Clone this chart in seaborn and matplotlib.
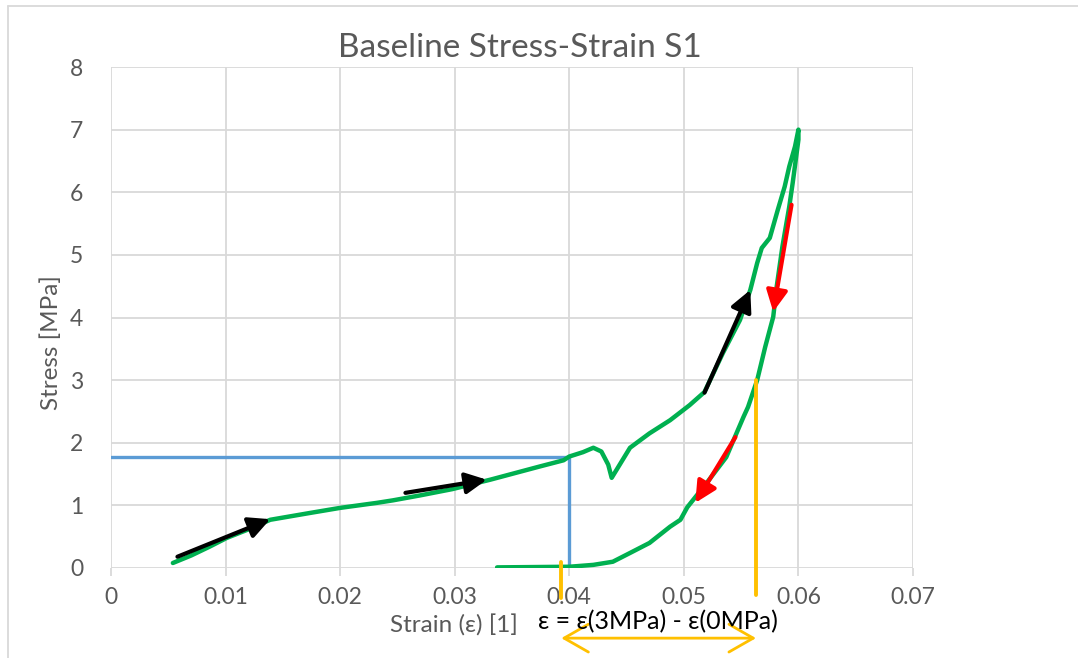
import numpy as np
import pandas as pd
import matplotlib
matplotlib.use("Agg")
import matplotlib.pyplot as plt
from matplotlib.lines import Line2D
import seaborn as sns

# ─── Data ───────────────────────────────────────────────────────────────────────
load_strain = [0.0054, 0.0070, 0.0086, 0.0101, 0.0119, 0.0139, 0.0174, 0.0200,
               0.0232, 0.0246, 0.0270, 0.0298, 0.0331, 0.0374, 0.0395, 0.0400,
               0.0412, 0.0421, 0.0428, 0.0434, 0.0437, 0.0445, 0.0453, 0.0470,
               0.0488, 0.0505, 0.0518, 0.0534, 0.0549, 0.0558, 0.0564, 0.0568,
               0.0575, 0.0582, 0.0588, 0.0592, 0.0597, 0.0600]
load_stress = [0.08, 0.20, 0.34, 0.48, 0.61, 0.77, 0.88, 0.96,
               1.04, 1.08, 1.16, 1.26, 1.41, 1.62, 1.72, 1.78,
               1.85, 1.92, 1.86, 1.65, 1.44, 1.68, 1.92, 2.15,
               2.36, 2.60, 2.81, 3.43, 3.96, 4.44, 4.87, 5.11,
               5.27, 5.72, 6.09, 6.41, 6.73, 7.00]

unload_strain = [0.0600, 0.0600, 0.0595, 0.0592, 0.0586, 0.0581, 0.0578, 0.0571,
                 0.0564, 0.0556, 0.0552, 0.0537, 0.0520, 0.0503, 0.0497, 0.0488,
                 0.0470, 0.0453, 0.0438, 0.0421, 0.0400, 0.0337]
unload_stress = [7.00, 6.84, 6.15, 5.77, 5.13, 4.49, 4.01, 3.53,
                 3.00, 2.57, 2.41, 1.77, 1.36, 0.97, 0.77, 0.66,
                 0.40, 0.24, 0.10, 0.05, 0.02, 0.01]

yield_strain = 0.040
yield_stress = 1.78
eps_0mpa = 0.0393
eps_3mpa = 0.0563

# arrows: (x0, y0, x1, y1)
black_arrows = [(0.0058, 0.18, 0.0139, 0.78),
                (0.0257, 1.20, 0.0328, 1.41),
                (0.0518, 2.80, 0.0558, 4.44)]
red_arrows = [(0.0594, 5.80, 0.0578, 4.09),
              (0.0545, 2.09, 0.0510, 1.04)]

x_ticks = [0, 0.01, 0.02, 0.03, 0.04, 0.05, 0.06, 0.07]
x_tick_labels = ["0", "0.01", "0.02", "0.03", "0.04", "0.05", "0.06", "0.07"]
y_ticks = [0, 1, 2, 3, 4, 5, 6, 7, 8]

# ─── Style ──────────────────────────────────────────────────────────────────────
sns.set_theme(style="whitegrid")
plt.rcParams["font.family"] = ["Lato", "DejaVu Sans"]
GREY_TXT = "#595959"
GRID = "#d9d9d9"

df = pd.DataFrame({
    "strain": load_strain + unload_strain[1:],
    "stress": load_stress + unload_stress[1:],
})

fig = plt.figure(figsize=(10.78, 6.58), dpi=100, facecolor="white")
ax = fig.add_axes([111 / 1078, 1 - 568 / 658, 802 / 1078, 501 / 658])

sns.lineplot(data=df, x="strain", y="stress", sort=False, estimator=None,
             color="#00b050", lw=3.2, ax=ax, zorder=3)

# blue yield guide
ax.plot([0, yield_strain, yield_strain], [yield_stress, yield_stress, 0],
        color="#5b9bd5", lw=2.4, zorder=2)

# orange strain-range markers (run below the axis)
ax.plot([eps_0mpa, eps_0mpa], [0.1, -0.48], color="#ffc000", lw=2.8,
        clip_on=False, zorder=4)
ax.plot([eps_3mpa, eps_3mpa], [3.0, -0.43], color="#ffc000", lw=2.8,
        clip_on=False, zorder=4)
ax.annotate("", xy=(eps_0mpa, -1.12), xytext=(eps_3mpa, -1.12),
            arrowprops=dict(arrowstyle="<->,head_length=0.7,head_width=0.4",
                            color="#ffc000", lw=2, mutation_scale=25,
                            shrinkA=0, shrinkB=0),
            annotation_clip=False)
ax.text(0.0477, -0.86, "ε = ε(3MPa) - ε(0MPa)", ha="center", va="center",
        fontsize=18, color="black", family=["Lato", "DejaVu Sans"])

for x0, y0, x1, y1 in black_arrows:
    ax.annotate("", xy=(x1, y1), xytext=(x0, y0),
                arrowprops=dict(arrowstyle="-|>,head_length=0.8,head_width=0.4",
                                color="black", lw=3, mutation_scale=16,
                                shrinkA=0, shrinkB=0), zorder=5)
for x0, y0, x1, y1 in red_arrows:
    ax.annotate("", xy=(x1, y1), xytext=(x0, y0),
                arrowprops=dict(arrowstyle="-|>,head_length=0.8,head_width=0.4",
                                color="#ff0000", lw=3, mutation_scale=16,
                                shrinkA=0, shrinkB=0), zorder=5)

ax.set_xlim(0, 0.07)
ax.set_ylim(0, 8)
ax.set_xticks(x_ticks)
ax.set_xticklabels(x_tick_labels)
ax.set_yticks(y_ticks)
ax.grid(True, color=GRID, lw=1.3)
for s in ax.spines.values():
    s.set_visible(False)
ax.tick_params(axis="x", bottom=True, length=6, width=1.3, color=GRID,
               labelsize=16.5, labelcolor=GREY_TXT, pad=8)
ax.tick_params(axis="y", left=False, labelsize=16.5, labelcolor=GREY_TXT, pad=14)

ax.set_xlabel("Strain (ε) [1]", fontsize=17.5, color=GREY_TXT)
ax.set_ylabel("Stress [MPa]", fontsize=17.5, color=GREY_TXT)
ax.xaxis.set_label_coords(0.428, -0.092)
ax.yaxis.set_label_coords(-0.061, 0.449)

fig.text(520 / 1078, 1 - 57 / 658, "Baseline Stress-Strain S1", ha="center",
         va="baseline", fontsize=24, color=GREY_TXT)

# chart-area border (only the top/left edges are inside the crop)
fig.add_artist(Line2D([8 / 1078, 1.0], [1 - 6 / 658, 1 - 6 / 658],
                      transform=fig.transFigure, color=GRID, lw=1.3))
fig.add_artist(Line2D([8 / 1078, 8 / 1078], [0, 1 - 6 / 658],
                      transform=fig.transFigure, color=GRID, lw=1.3))

fig.savefig("out.png", dpi=100, facecolor="white")
